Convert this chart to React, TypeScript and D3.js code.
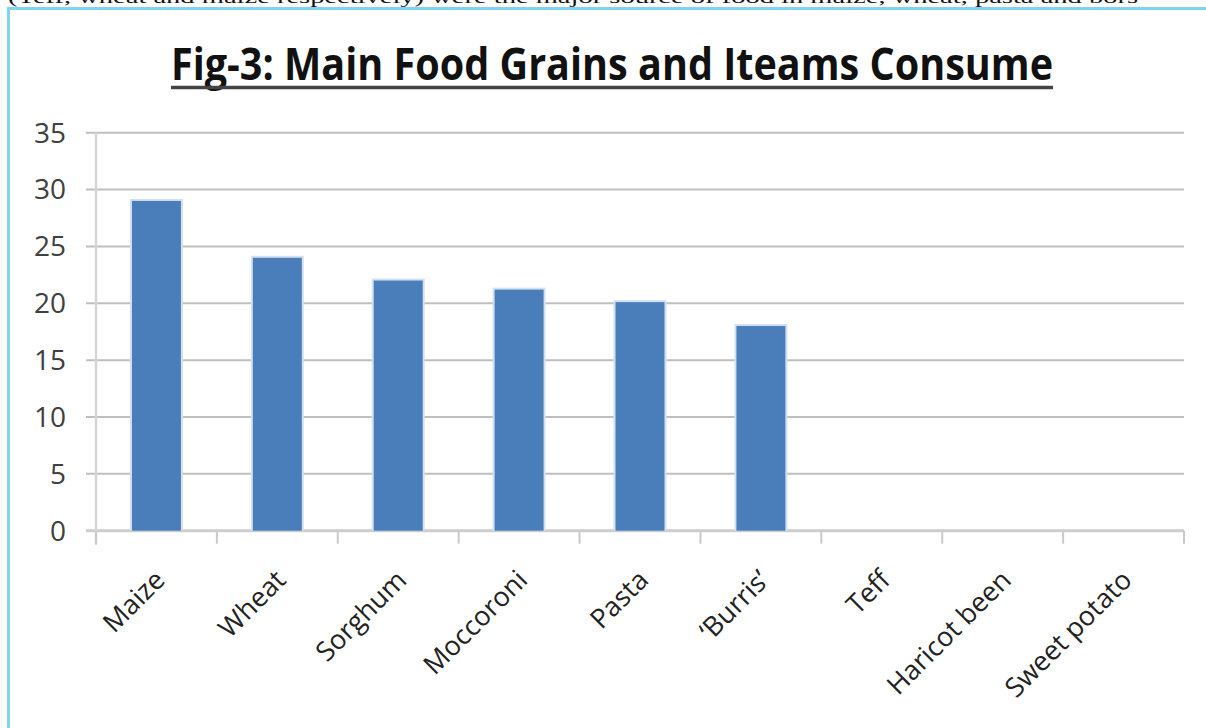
import React from "react";
import * as d3 from "d3";

const categories = ["Maize", "Wheat", "Sorghum", "Moccoroni", "Pasta", "‘Burris’", "Teff", "Haricot been", "Sweet potato"];
const values = [29, 24, 22, 21.2, 20.1, 18, 0, 0, 0];
const yTicks = [0, 5, 10, 15, 20, 25, 30, 35];
const title = "Fig-3: Main Food Grains and Iteams Consume";
const topText = "(Teff, wheat and maize respectively) were the major source of food in maize, wheat, pasta and bors";

const W = 1206;
const H = 728;
const left = 96;
const right = 1184;
const top = 132.7;
const bottom = 530.7;

export default function App() {
  const x = d3.scaleBand<string>().domain(categories).range([left, right]).paddingInner(0.595).paddingOuter(0.2975);
  const step = x.step();
  const y = d3.scaleLinear().domain([0, 35]).range([bottom, top]);
  const tickX = d3.range(categories.length + 1).map((i) => left + i * step);
  const font = "'Open Sans', 'Liberation Sans', sans-serif";

  return (
    <svg width={W} height={H} style={{ position: "absolute", left: 0, top: 0, display: "block", background: "#fff" }}>
      <text x={8} y={3} fontFamily="'Liberation Serif', 'DejaVu Serif', serif" fontSize={17} fill="#111" textLength={1130} lengthAdjust="spacingAndGlyphs">{topText}</text>
      <rect x={8.5} y={8.5} width={1400} height={900} fill="none" stroke="#7fd4f2" strokeWidth={3} />

      <text x={612} y={80} textAnchor="middle" fontFamily={font} fontWeight={700} fontSize={44} fill="#111" textLength={882} lengthAdjust="spacingAndGlyphs">{title}</text>
      <line x1={171} x2={1053} y1={87.5} y2={87.5} stroke="#444" strokeWidth={3.5} />

      {yTicks.map((t) => (
        <line key={"g" + t} x1={86} x2={right} y1={y(t)} y2={y(t)} stroke={t === 0 ? "#cdcdcd" : "#bfbfbf"} strokeWidth={t === 0 ? 3 : 2} />
      ))}
      <line x1={left} x2={left} y1={top} y2={bottom + 14} stroke="#d6d6d6" strokeWidth={2.5} />
      {tickX.map((tx, i) => (
        <line key={"t" + i} x1={tx} x2={tx} y1={bottom} y2={bottom + 13} stroke="#cacaca" strokeWidth={2} />
      ))}
      {yTicks.map((t) => (
        <text key={"l" + t} x={66} y={y(t)} dy="0.35em" textAnchor="end" fontFamily={font} fontSize={28} fill="#404040">{t}</text>
      ))}

      {categories.map((c, i) => {
        const v = values[i];
        if (v <= 0) return null;
        const bx = x(c) as number;
        const bw = x.bandwidth();
        return (
          <g key={"b" + c}>
            <rect x={bx - 2} y={y(v) - 2} width={bw + 4} height={bottom - y(v) + 2} fill="#d3e0f0" />
            <rect x={bx} y={y(v)} width={bw} height={bottom - y(v)} fill="#4a7ebb" />
          </g>
        );
      })}

      {categories.map((c) => {
        const cx = (x(c) as number) + x.bandwidth() / 2;
        return (
          <text key={"x" + c} transform={`translate(${cx + 10},${bottom + 51}) rotate(-45)`} textAnchor="end" fontFamily={font} fontSize={27} fill="#222">{c}</text>
        );
      })}
    </svg>
  );
}
